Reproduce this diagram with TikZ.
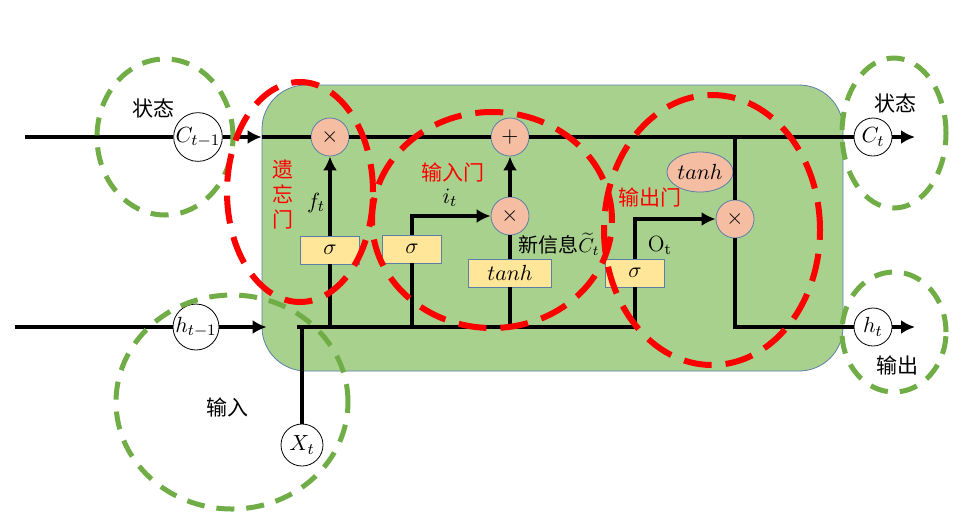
\documentclass[tikz,border=0pt]{standalone}
\usepackage{fontspec}
\newfontfamily\cjk{Noto Sans CJK SC}
\usetikzlibrary{shapes.geometric,arrows.meta,positioning}
\definecolor{cellgreen}{HTML}{A9D18E}
\definecolor{rimblue}{HTML}{5B7FA6}
\definecolor{opfill}{HTML}{F5BDA2}
\definecolor{actyellow}{HTML}{FFE699}
\definecolor{ringgreen}{HTML}{70AD47}

\begin{document}
\begin{tikzpicture}[x=0.5pt, y=-0.5pt, >={Latex[length=7pt,width=7pt]}, font=\fontsize{11}{13}\selectfont,
  wire/.style={line width=2pt},
  state/.style={circle, draw, fill=white, minimum size=21pt, inner sep=0pt},
  op/.style={circle, draw=rimblue, fill=opfill, minimum size=19pt, inner sep=0pt},
  act/.style={draw=rimblue, fill=actyellow, minimum width=29.5pt, minimum height=14pt, inner sep=0pt},
  greenring/.style={draw=ringgreen, line width=2.5pt, dash pattern=on 9pt off 6pt},
  redring/.style={draw=red, line width=3pt, dash pattern=on 14pt off 7pt},
  zh/.style={font=\cjk\fontsize{10.5}{12.5}\selectfont}]
\useasboundingbox (0,0) rectangle (980,521);
\node[draw=rimblue, fill=cellgreen, rounded corners=22pt, minimum width=290.5pt, minimum height=143pt] (cell) at (552.5,228) {};
\node[state] (ctin) at (198,137) {$C_{t-1}$};
\node[state] (htin) at (196,327) {$h_{t-1}$};
\node[state] (xt) at (302,445) {$X_t$};
\node[state, minimum size=19pt] (ctout) at (873,137) {$C_t$};
\node[state, minimum size=19pt] (htout) at (873,327) {$h_t$};
\node[op] (mulf) at (330,137) {$\times$};
\node[op] (add) at (510,137) {$+$};
\node[op] (muli) at (510,216) {$\times$};
\node[op] (mulo) at (735,219) {$\times$};
\node[act] (sigf) at (330,250) {$\sigma$};
\node[act] (sigi) at (412,249) {$\sigma$};
\node[act, minimum width=41.5pt] (tanhc) at (510,273) {$tanh$};
\node[act] (sigo) at (635,273) {$\sigma$};
\node[ellipse, draw=rimblue, fill=opfill, minimum width=33pt, minimum height=20pt, inner sep=0pt] (tanho) at (700,172) {$tanh$};
\coordinate (cin) at (25,137);
\coordinate (hin) at (15,327);
\coordinate (xj) at (302,327);
\coordinate (ob) at (735,137);
\coordinate (cend) at (915,137);
\coordinate (hend) at (915,327);
\draw[wire] (cin) -- (ctin);
\draw[wire, ->] (ctin) -- (ctin -| cell.west);
\draw[wire] (ctin -| cell.west) -- (mulf);
\draw[wire] (hin) -- (htin);
\draw[wire, ->] (htin) -- ([xshift=2.5pt]htin -| cell.west);
\draw[wire] (xt) -- (xj);
\draw[wire] ([xshift=-2.5pt]xj) -- (sigo |- xj);
\draw[wire] (sigf |- xj) -- (sigf);
\draw[wire, ->] (sigf) -- (mulf);
\draw[wire] (sigi |- xj) -- (sigi);
\draw[wire, ->] (sigi) |- (muli);
\draw[wire] (tanhc |- xj) -- (tanhc) -- (muli);
\draw[wire, ->] (muli) -- (add);
\draw[wire] (sigo |- xj) -- (sigo);
\draw[wire, ->] (sigo) |- (mulo);
\draw[wire] (mulf) -- (add) -- (ctout);
\draw[wire] (ob) -- (mulo);
\draw[wire] (mulo) |- (htout);
\draw[wire, ->] (ctout) -- (cend);
\draw[wire, ->] (htout) -- (hend);
\draw[greenring] (165,137) ellipse [x radius=34pt, y radius=39pt];
\draw[greenring] (232,402) ellipse [x radius=58pt, y radius=53.5pt];
\draw[greenring] (894,133) ellipse [x radius=26pt, y radius=37.5pt];
\draw[greenring] (894,332) ellipse [x radius=26pt, y radius=30pt];
\draw[redring] (300,192) ellipse [x radius=36.5pt, y radius=55pt];
\draw[redring] (492,220) ellipse [x radius=60pt, y radius=54pt];
\draw[redring] (712,230) ellipse [x radius=54pt, y radius=67.5pt];
\node (ft) at (316,203) {$f_t$};
\node (it) at (450,198) {$i_t$};
\node[zh, font=\cjk\fontsize{10}{12}\selectfont, anchor=west, inner sep=1pt] (newinfo) at (516,244) {新信息$\widetilde{C}_t$};
\node (ot) at (660,245) {$\mathrm{O}_\mathrm{t}$};
\node[zh] (statein) at (153,108) {状态};
\node[zh] (stateout) at (895,103) {状态};
\node[zh] (input) at (227,407) {输入};
\node[zh] (output) at (897,365) {输出};
\node[zh, red, align=center] (forget) at (283,195) {遗\\忘\\门};
\node[zh, red] (ingate) at (453,172) {输入门};
\node[zh, red] (outgate) at (650,197) {输出门};
\end{tikzpicture}
\end{document}
